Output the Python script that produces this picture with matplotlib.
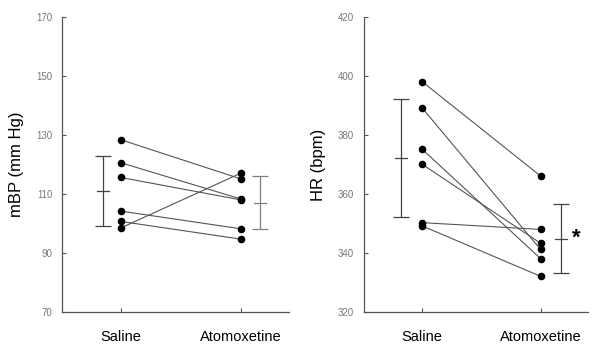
import matplotlib
matplotlib.use("Agg")
import matplotlib.pyplot as plt

plt.rcParams['font.family'] = ['Liberation Sans', 'DejaVu Sans']

groups = ["Saline", "Atomoxetine"]

# Left panel: mean blood pressure (paired values, saline -> atomoxetine)
mbp_saline = [128.4, 120.6, 115.6, 104.2, 100.7, 98.5]
mbp_atomox = [115.1, 108.3, 108.0, 98.2, 94.7, 117.1]
mbp_mean = [111.0, 107.1]
mbp_sd = [12.0, 8.9]
mbp_ticks = [70, 90, 110, 130, 150, 170]

# Right panel: heart rate
hr_saline = [398.1, 389.2, 375.2, 370.1, 350.3, 349.2]
hr_atomox = [366.1, 341.2, 338.1, 343.3, 348.0, 332.1]
hr_mean = [372.3, 344.9]
hr_sd = [20.0, 11.7]
hr_ticks = [320, 340, 360, 380, 400, 420]

fig = plt.figure(figsize=(6.0, 3.53), dpi=100)
ax1 = fig.add_axes([0.1033, 0.1161, 0.3784, 0.8357])
ax2 = fig.add_axes([0.6067, 0.1161, 0.3733, 0.8357])

def draw(ax, sal, atx, means, sds, ticks, ylabel, ebx, ebcolors):
    for a, b in zip(sal, atx):
        ax.plot([0, 1], [a, b], color='#555555', lw=0.8, zorder=2)
    ax.scatter([0] * len(sal), sal, s=20, color='black', zorder=3)
    ax.scatter([1] * len(atx), atx, s=20, color='black', zorder=3)
    for x, m, s, c in zip(ebx, means, sds, ebcolors):
        ax.errorbar([x], [m], yerr=[s], fmt='none', ecolor=c, elinewidth=0.9,
                    capsize=6, capthick=0.9)
        ax.plot([x - 0.05, x + 0.05], [m, m], color=c, lw=0.9)
    ax.set_xlim(-0.49, 1.4)
    ax.set_ylim(ticks[0], ticks[-1])
    ax.set_yticks(ticks)
    ax.set_xticks([0, 1])
    ax.set_xticklabels(groups, fontsize=10.5)
    ax.tick_params(axis='y', direction='in', length=3, pad=7, labelsize=7,
                   labelcolor='#777777', color='#555555')
    ax.tick_params(axis='x', direction='in', length=3, pad=13, color='#555555')
    for sp in ['top', 'right']:
        ax.spines[sp].set_visible(False)
    for sp in ['left', 'bottom']:
        ax.spines[sp].set_color('#555555')
        ax.spines[sp].set_linewidth(0.9)
    ax.set_ylabel(ylabel, fontsize=12, labelpad=9)

draw(ax1, mbp_saline, mbp_atomox, mbp_mean, mbp_sd, mbp_ticks, "mBP (mm Hg)",
     [-0.15, 1.16], ['#444444', '#808080'])
draw(ax2, hr_saline, hr_atomox, hr_mean, hr_sd, hr_ticks, "HR (bpm)",
     [-0.18, 1.17], ['#444444', '#444444'])
ax2.text(1.30, hr_mean[1], "*", fontsize=16, fontweight='bold',
         ha='center', va='center')

fig.savefig("out.png", dpi=100)
